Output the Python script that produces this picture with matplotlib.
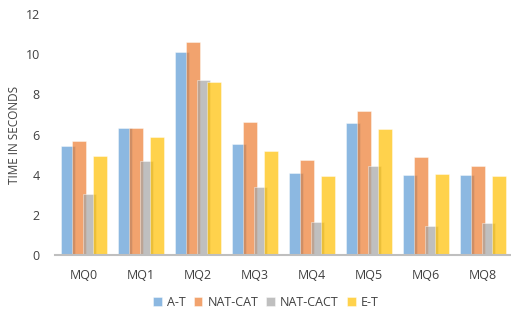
import matplotlib.pyplot as plt
import numpy as np

plt.rcParams['font.family'] = ['Open Sans', 'DejaVu Sans']

queries = ['MQ0', 'MQ1', 'MQ2', 'MQ3', 'MQ4', 'MQ5', 'MQ6', 'MQ8']
a_t = [5.43, 6.31, 10.11, 5.53, 4.10, 6.59, 3.98, 3.98]
nat_cat = [5.68, 6.31, 10.59, 6.61, 4.75, 7.19, 4.87, 4.42]
nat_cact = [3.04, 4.70, 8.70, 3.39, 1.63, 4.43, 1.43, 1.61]
e_t = [4.91, 5.88, 8.63, 5.16, 3.95, 6.26, 4.02, 3.95]

series = [('A-T', a_t, '#5B9BD5'),
          ('NAT-CAT', nat_cat, '#ED7D31'),
          ('NAT-CACT', nat_cact, '#A5A5A5'),
          ('E-T', e_t, '#FFC000')]

fig = plt.figure(figsize=(5.11, 3.12), dpi=100)
ax = fig.add_axes([55 / 511, 57 / 312, 456 / 511, 241 / 312])

x = np.arange(len(queries))
step = 0.185
width = 0.24
for i, (name, vals, col) in enumerate(series):
    ax.bar(x + (i - 1.5) * step, vals, width, color=col, alpha=0.7,
           edgecolor='white', linewidth=0.4, label=name)

ax.set_xlim(-0.51, 7.49)
ax.set_ylim(0, 12)
ax.set_yticks(range(0, 13, 2))
ax.set_xticks(x)
ax.set_xticklabels(queries)
ax.tick_params(axis='both', length=0, labelsize=9, colors='#404040')
ax.tick_params(axis='x', pad=10)
ax.tick_params(axis='y', pad=11)
for s in ['top', 'right', 'left']:
    ax.spines[s].set_visible(False)
ax.spines['bottom'].set_color('#BFBFBF')
ax.spines['bottom'].set_linewidth(1.5)
ax.set_ylabel('TIME IN SECONDS', fontsize=8.5, color='#404040', labelpad=3)

fig.legend(loc='lower center', ncol=4, frameon=False, fontsize=9,
           bbox_to_anchor=(0.52, -0.025), handlelength=0.7, handleheight=0.7,
           columnspacing=0.65, handletextpad=0.4, labelcolor='#404040')

fig.savefig('out.png', dpi=100)
